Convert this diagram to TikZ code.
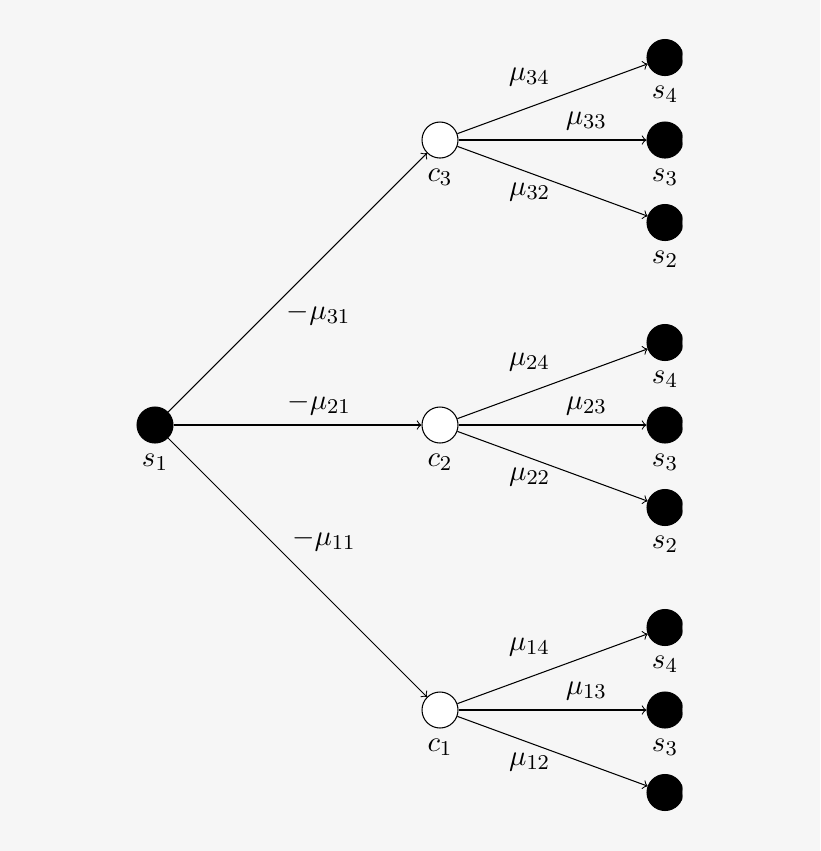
\documentclass[tikz,border=0pt,11pt]{standalone}
\usetikzlibrary{positioning}
\definecolor{bggray}{RGB}{246,246,246}
\tikzset{
  snode/.style={circle,draw=black,fill=black,inner sep=0pt,minimum size=0.48cm},
  cnode/.style={circle,draw=black,fill=white,inner sep=0pt,minimum size=0.48cm}
}
\begin{document}
\begin{tikzpicture}
\fill[bggray] (-2.067,-5.68) rectangle (8.867,5.667);
\useasboundingbox (-2.067,-5.68) rectangle (8.867,5.667);
\clip (-2.067,-5.16) rectangle (7.033,5.667); % picture is cut on the right and bottom
\node[snode,label=below:{$s_1$}] (s1) at (0,0) {};
\foreach \i/\y in {1/-3.8,2/0,3/3.8} % edit here for the middle nodes
{
\node[cnode,label=below:{$c_\i$}] (c\i) at (3.8,\y) {};
\node[snode,label=below:{$s_4$}] (s\i4) at (6.8,\y+1.1) {};
\node[snode,label=below:{$s_3$}] (s\i3) at (6.8,\y) {};
\node[snode,label=below:{$s_2$}] (s\i2) at (6.8,\y-1.1) {};
}
\draw[->] (s1) -- (c3) node[pos=0.42,below right,yshift=4pt] {$-\mu_{31}$};
\draw[->] (s1) -- (c2) node[pos=0.587,above] {$-\mu_{21}$};
\draw[->] (s1) -- (c1) node[pos=0.44,above right,yshift=-3.5pt] {$-\mu_{11}$};
\foreach \i in {1,2,3} % edit here for the right edges
{
\draw[->] (c\i) -- (s\i4) node[pos=0.54,above left] {$\mu_{\i4}$};
\draw[->] (c\i) -- (s\i3) node[pos=0.68,above] {$\mu_{\i3}$};
\draw[->] (c\i) -- (s\i2) node[pos=0.38,below] {$\mu_{\i2}$};
}
\end{tikzpicture}
\end{document}
